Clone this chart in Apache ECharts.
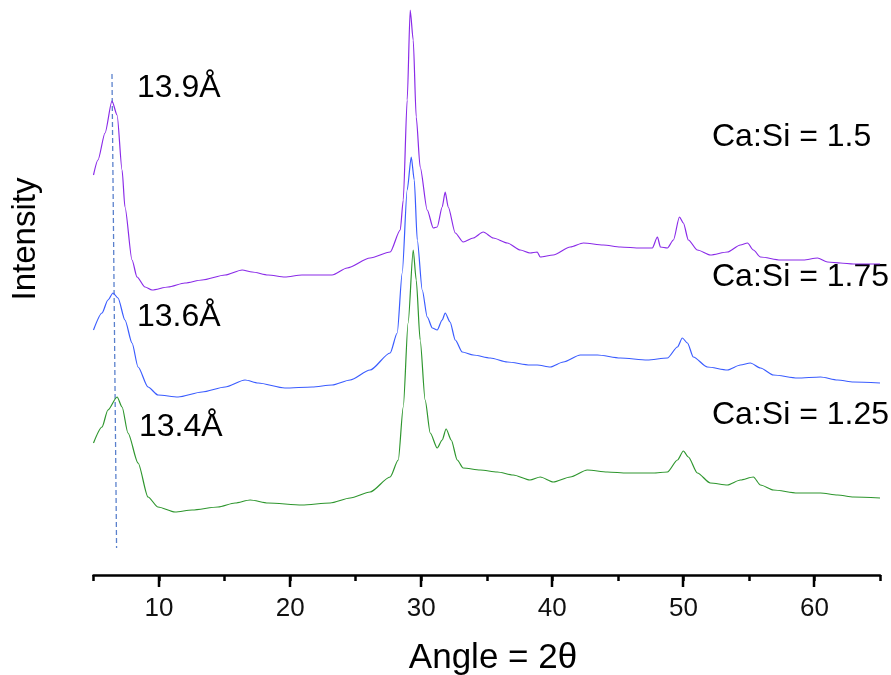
<!DOCTYPE html>
<html><head><meta charset="utf-8">
<script src="https://cdn.jsdelivr.net/npm/echarts@6.0.0/dist/echarts.min.js"></script>
<style>html,body{margin:0;padding:0;background:#fff}#c{width:891px;height:675px}</style>
</head><body><div id="c"></div>
<script>
// Ca:Si = 1.5 (purple)
const angles15 = [5.0,5.34,5.88,6.41,6.8,7.18,7.4,7.94,8.32,8.93,9.47,10.69,11.98,13.28,15.04,16.34,17.1,18.32,19.6,20.9,23.2,24.35,26.1,27.63,28.4,28.63,28.93,29.16,29.39,29.62,29.92,30.46,30.92,31.22,31.6,31.83,32.06,32.6,33.2,33.97,34.73,35.5,36.57,37.56,38.3,38.85,39.08,40.07,41.37,42.37,43.89,45.19,46.72,47.63,48.02,48.25,48.78,49.24,49.7,50.0,50.38,51.07,52.06,53.36,54.35,54.89,55.34,55.88,57.4,59.16,60.23,61.0,61.98,62.98,65.0];
const intensity15 = [400,415,442,474,460,405,368,315,298,288,285,288,292,295,300,305,303,300,298,300,300,307,317,323,345,375,475,565,535,458,408,365,347,348,368,383,368,342,333,337,343,337,332,325,322,323,318,320,328,332,330,328,327,327,338,328,327,335,358,352,335,325,320,323,330,332,325,318,315,315,317,313,312,311,311];
// Ca:Si = 1.75 (blue)
const angles175 = [5.0,5.65,6.1,6.49,6.87,7.4,7.94,8.4,9.16,9.92,11.45,13.28,15.04,16.56,17.56,19.6,21.68,23.2,24.58,26.1,27.63,28.17,28.55,28.93,29.24,29.47,29.7,30.08,30.46,30.85,31.22,31.6,31.83,32.2,32.6,33.13,33.97,35.27,36.57,38.3,38.85,39.85,40.84,42.14,43.44,45.19,47.25,48.78,49.55,49.92,50.31,50.76,51.83,53.36,54.35,55.11,55.88,56.87,58.7,60.46,61.76,62.98,65.0];
const intensity175 = [245,262,275,282,277,255,232,208,188,180,178,183,188,195,192,187,188,190,195,205,222,242,302,385,418,395,335,285,258,247,245,255,262,253,235,223,220,217,213,210,210,208,213,220,220,217,215,217,228,237,232,218,208,205,210,212,207,200,197,198,195,193,192];
// Ca:Si = 1.25 (green)
const angles125 = [5.0,5.65,6.1,6.8,7.18,7.63,8.4,9.16,9.92,11.22,12.52,14.5,15.8,16.95,18.32,20.9,23.05,24.58,26.1,27.63,28.25,28.63,29.0,29.39,29.62,29.92,30.3,30.69,31.22,31.6,31.9,32.29,32.75,33.2,34.5,35.8,37.02,38.3,39.08,40.07,41.37,42.67,44.2,45.72,47.7,48.78,49.55,50.0,50.38,51.07,52.06,53.36,54.35,55.34,55.88,56.87,58.7,60.46,61.76,62.98,65.0];
const intensity125 = [132,148,165,178,168,142,112,78,68,63,65,68,72,75,72,70,72,77,83,98,115,168,252,325,295,235,175,142,127,135,146,135,115,107,105,103,100,95,98,93,98,105,103,102,102,103,115,124,118,102,92,90,95,98,90,85,82,82,80,78,77];
// dashed reference line (basal reflection)
const refAngles = [6.41, 6.76];
const refIntensity = [501, 27];

const majorTicks = [10,20,30,40,50,60];
const seriesNames = ['Ca:Si = 1.5','Ca:Si = 1.75','Ca:Si = 1.25'];
const spacingLabels = ['13.9Å','13.6Å','13.4Å'];

const zip = (a,b) => a.map((x,i)=>[x,b[i]]);
const FF = '"Liberation Sans", Arial, sans-serif';
const chart = echarts.init(document.getElementById('c'), null, {renderer:'canvas'});

function lineSeries(name, data, color){
  return {name, type:'line', data, symbol:'none', smooth:0.25, smoothMonotone:'x',
    lineStyle:{color, width:1.2}, animation:false};
}
function txt(text, x, y, size){
  return {type:'text', x, y, style:{text, font: size+'px '+FF, fill:'#000', verticalAlign:'middle', align:'left'}};
}

chart.setOption({
  animation:false,
  backgroundColor:'#fff',
  grid:{left:93.5, right:11, top:0, bottom:100, containLabel:false, outerBoundsMode:'none'},
  xAxis:{type:'value', min:5, max:65, interval:5, position:'bottom',
     axisLine:{show:true, onZero:false, lineStyle:{color:'#000', width:2.5}},
     axisTick:{show:true, length:6, lineStyle:{color:'#000', width:2.5}},
     axisLabel:{show:true, fontSize:26, color:'#111', margin:21, fontFamily:FF,
       formatter: v => (majorTicks.indexOf(v) >= 0 ? String(v) : '')},
     splitLine:{show:false}},
  yAxis:{type:'value', min:0, max:575, show:false},
  series:[
    {type:'line', data:zip(refAngles, refIntensity), symbol:'none',
     lineStyle:{color:'#5a80cc', width:1.3, type:[5,3]}, z:1},
    lineSeries(seriesNames[0], zip(angles15, intensity15), '#8a2be8'),
    lineSeries(seriesNames[1], zip(angles175, intensity175), '#3a5cff'),
    lineSeries(seriesNames[2], zip(angles125, intensity125), '#2e962e')
  ],
  graphic:[
    txt(spacingLabels[0], 137, 88, 32),
    txt(spacingLabels[1], 137, 317, 32),
    txt(spacingLabels[2], 139, 427, 32),
    txt(seriesNames[0], 712, 137, 32),
    txt(seriesNames[1], 712, 277, 32),
    txt(seriesNames[2], 712, 415, 32),
    {type:'text', x:493, y:658, style:{text:'Angle = 2θ', font:'35px '+FF, fill:'#000', align:'center', verticalAlign:'middle'}},
    {type:'text', x:26, y:239, rotation:Math.PI/2, style:{text:'Intensity', font:'33px '+FF, fill:'#000', align:'center', verticalAlign:'middle'}}
  ]
});

// longer major ticks at the labelled positions, placed through the axis scale
const baseY = chart.convertToPixel({xAxisIndex:0, yAxisIndex:0}, [5, 0])[1];
const majorMarks = majorTicks.map(v => {
  const px = Math.round(chart.convertToPixel({xAxisIndex:0}, v));
  return {type:'line', shape:{x1:px, y1:baseY, x2:px, y2:baseY + 12}, style:{stroke:'#000', lineWidth:2.5}, z:10};
});
chart.setOption({graphic: majorMarks.map((m,i)=>Object.assign({id:'mt'+i}, m))});
</script>
</body></html>
